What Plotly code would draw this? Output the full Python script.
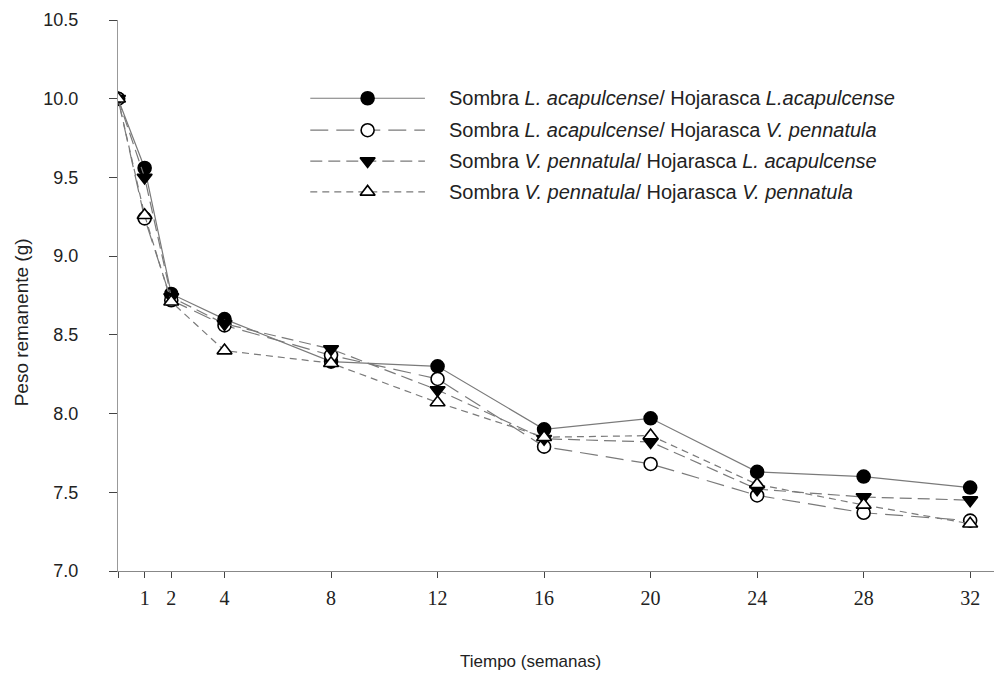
import plotly.graph_objects as go

weeks = [0, 1, 2, 4, 8, 12, 16, 20, 24, 28, 32]
s1 = [10.0, 9.56, 8.76, 8.60, 8.33, 8.30, 7.90, 7.97, 7.63, 7.60, 7.53]
s2 = [10.0, 9.24, 8.72, 8.56, 8.37, 8.22, 7.79, 7.68, 7.48, 7.37, 7.32]
s3 = [10.0, 9.50, 8.74, 8.57, 8.41, 8.15, 7.84, 7.82, 7.52, 7.47, 7.45]
s4 = [10.0, 9.26, 8.71, 8.40, 8.32, 8.07, 7.85, 7.86, 7.55, 7.42, 7.30]

names = [
    "Sombra <i>L. acapulcense</i>/ Hojarasca <i>L.acapulcense</i>",
    "Sombra <i>L. acapulcense</i>/ Hojarasca <i>V. pennatula</i>",
    "Sombra <i>V. pennatula</i>/ Hojarasca <i>L. acapulcense</i>",
    "Sombra <i>V. pennatula</i>/ Hojarasca <i>V. pennatula</i>",
]
xtickvals = [0, 1, 2, 4, 8, 12, 16, 20, 24, 28, 32]
xticktext = ["", "1", "2", "4", "8", "12", "16", "20", "24", "28", "32"]
ytickvals = [7.0, 7.5, 8.0, 8.5, 9.0, 9.5, 10.0, 10.5]

series = [s1, s2, s3, s4]
styles = [
    dict(dash="solid", symbol="circle", fill="black"),
    dict(dash="18px,8px", symbol="circle-open", fill="white"),
    dict(dash="12px,6px", symbol="triangle-down", fill="black"),
    dict(dash="7px,5px", symbol="triangle-up-open", fill="white"),
]
LINE = "#7a7a7a"
SANS = "Liberation Sans Narrow, Arial Narrow, Liberation Sans, Arial"

W, H = 1002, 682
# plot box (layout pixels)
L, R, T, B = 110, 992, 12, 563

fig = go.Figure()
for ys, st, nm in zip(series, styles, names):
    sym = st["symbol"].replace("-open", "")
    fig.add_trace(go.Scatter(
        x=weeks, y=ys, mode="lines+markers", name=nm, showlegend=False,
        line=dict(color=LINE, width=1.2, dash=st["dash"]),
        marker=dict(symbol=sym, size=13, color=st["fill"],
                    line=dict(color="black", width=1.6)),
    ))

# manual legend on an overlay axis (units: fraction of plot box)
rows = [0.858, 0.800, 0.744, 0.688]
for ry, st, nm in zip(rows, styles, names):
    sym = st["symbol"].replace("-open", "")
    fig.add_trace(go.Scatter(
        x=[0.218, 0.348], y=[ry, ry], mode="lines", xaxis="x2", yaxis="y2",
        showlegend=False, hoverinfo="skip",
        line=dict(color=LINE, width=1.2, dash=st["dash"]),
    ))
    fig.add_trace(go.Scatter(
        x=[0.283], y=[ry], mode="markers", xaxis="x2", yaxis="y2",
        showlegend=False, hoverinfo="skip",
        marker=dict(symbol=sym, size=13, color=st["fill"],
                    line=dict(color="black", width=1.6)),
    ))
    fig.add_annotation(
        x=0.373, y=ry, xref="x2", yref="y2", text=nm, showarrow=False,
        xanchor="left", yanchor="middle",
        font=dict(family=SANS, size=20, color="#222"),
    )

fig.add_annotation(
    x=0.468, y=-0.165, xref="paper", yref="paper", text="Tiempo (semanas)",
    showarrow=False, xanchor="center", yanchor="middle",
    font=dict(family=SANS, size=17, color="#222"),
)
fig.add_annotation(
    x=-0.109, y=0.451, xref="paper", yref="paper", text="Peso remanente (g)",
    showarrow=False, textangle=-90, xanchor="center", yanchor="middle",
    font=dict(family=SANS, size=19, color="#222"),
)

fig.update_layout(
    width=W, height=H,
    margin=dict(l=L, r=W - R, t=T, b=H - B, autoexpand=False),
    paper_bgcolor="white", plot_bgcolor="white",
    showlegend=False,
    xaxis=dict(
        range=[0, 33.12], tickvals=xtickvals, ticktext=xticktext, automargin=False,
        showgrid=False, zeroline=False, showline=True, linecolor="#888", linewidth=1,
        ticks="outside", ticklen=6, tickcolor="#444", tickwidth=1,
        ticklabelstandoff=3,
        tickfont=dict(family="Liberation Serif, Times New Roman, serif", size=20, color="#222"),
    ),
    yaxis=dict(
        range=[7.0, 10.5], tickvals=ytickvals, tickformat=".1f", automargin=False,
        showgrid=False, zeroline=False, showline=True, linecolor="#999", linewidth=1,
        ticks="outside", ticklen=8, tickcolor="#444", tickwidth=1,
        ticklabelstandoff=27,
        tickfont=dict(family=SANS, size=18, color="#222"),
    ),
    xaxis2=dict(range=[0, 1], overlaying="x", visible=False, fixedrange=True),
    yaxis2=dict(range=[0, 1], overlaying="y", visible=False, fixedrange=True),
)

fig.write_html("out.html")
